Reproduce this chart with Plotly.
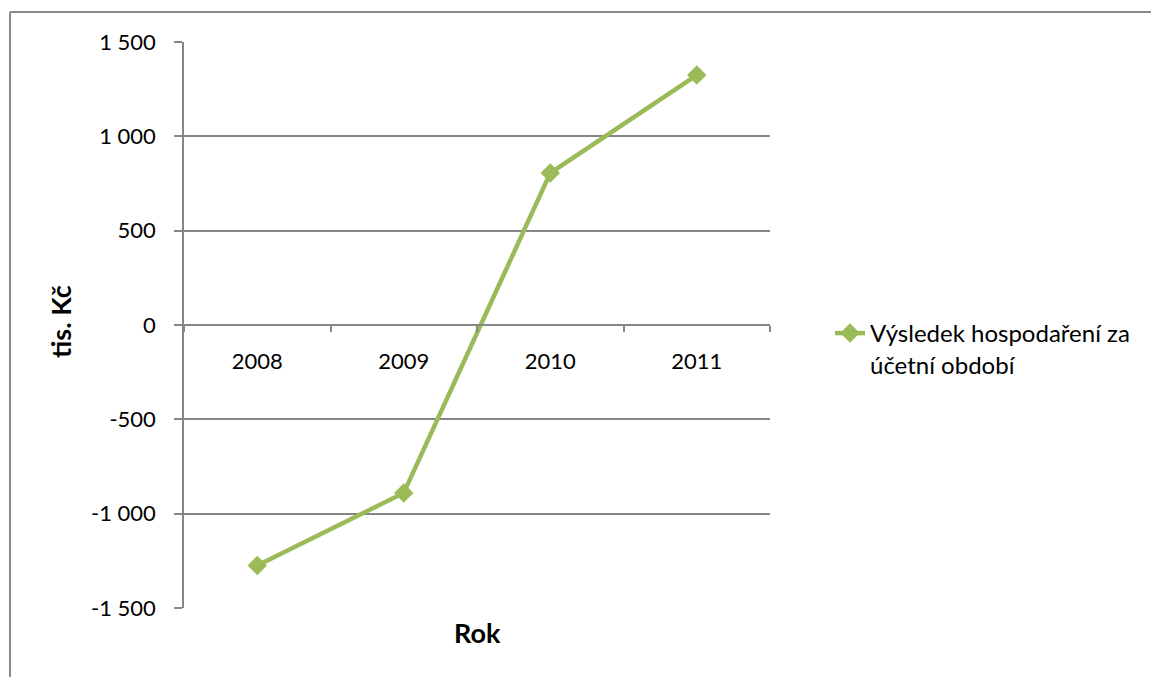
import plotly.graph_objects as go

years = ["2008", "2009", "2010", "2011"]
values = [-1275, -890, 805, 1325]
series_name = "Výsledek hospodaření za<br>účetní období"
y_tickvals = [-1500, -1000, -500, 0, 500, 1000, 1500]
y_ticktext = ["-1 500", "-1 000", "-500", "0", "500", "1 000", "1 500"]

FONT = "Lato"
GRID = "#868686"
GREEN = "#9BBB59"

L, R, T, B = 184, 1151 - 770, 42, 677 - 608
W = 1151 - L - R
H = 677 - T - B

fig = go.Figure()
fig.add_trace(go.Scatter(
    x=years, y=values, name=series_name, mode="lines+markers",
    line=dict(color=GREEN, width=4.5),
    marker=dict(symbol="diamond", size=15, color=GREEN),
))

fig.update_layout(
    width=1151, height=677,
    margin=dict(l=L, r=R, t=T, b=B, pad=0),
    paper_bgcolor="white", plot_bgcolor="white",
    font=dict(family=FONT, size=22, color="black"),
    showlegend=True,
    legend=dict(x=(830 - L) / W, xanchor="left", y=(608 - 311) / H, yanchor="top",
                valign="top", font=dict(size=24, family=FONT), bgcolor="rgba(0,0,0,0)",
                itemwidth=30, tracegroupgap=0),
    xaxis=dict(type="category", anchor="free", position=0.5,
               showline=True, linecolor=GRID, linewidth=1.5,
               ticks="outside", ticklen=6, tickcolor=GRID, tickwidth=1.5,
               tickson="boundaries", showgrid=False, zeroline=False,
               ticklabelstandoff=17, range=[-0.5, 3.5]),
    yaxis=dict(range=[-1500, 1500], tickvals=y_tickvals, ticktext=y_ticktext,
               showline=True, linecolor=GRID, linewidth=1.5,
               ticks="outside", ticklen=8, tickcolor=GRID, tickwidth=1.5,
               showgrid=True, gridcolor=GRID, gridwidth=1.5,
               zeroline=True, zerolinecolor=GRID, zerolinewidth=1.5,
               ticklabelstandoff=14),
)

# chart-area border (left and top edges visible)
fig.add_shape(type="line", xref="paper", yref="paper",
              x0=(10 - L) / W, x1=(1151 - L) / W, y0=(608 - 12) / H, y1=(608 - 12) / H,
              line=dict(color="#888888", width=2))
fig.add_shape(type="line", xref="paper", yref="paper",
              x0=(10 - L) / W, x1=(10 - L) / W, y0=(608 - 12) / H, y1=(608 - 690) / H,
              line=dict(color="#888888", width=2))

fig.add_annotation(text="<b>Rok</b>", xref="paper", yref="paper", x=0.5, y=(608 - 632) / H,
                   showarrow=False, font=dict(size=27, family=FONT), xanchor="center", yanchor="middle")
fig.add_annotation(text="<b>tis. Kč</b>", xref="paper", yref="paper", x=(60 - L) / W, y=(608 - 322) / H,
                   showarrow=False, textangle=-90, font=dict(size=27, family=FONT),
                   xanchor="center", yanchor="middle")

fig.write_html("out.html")
